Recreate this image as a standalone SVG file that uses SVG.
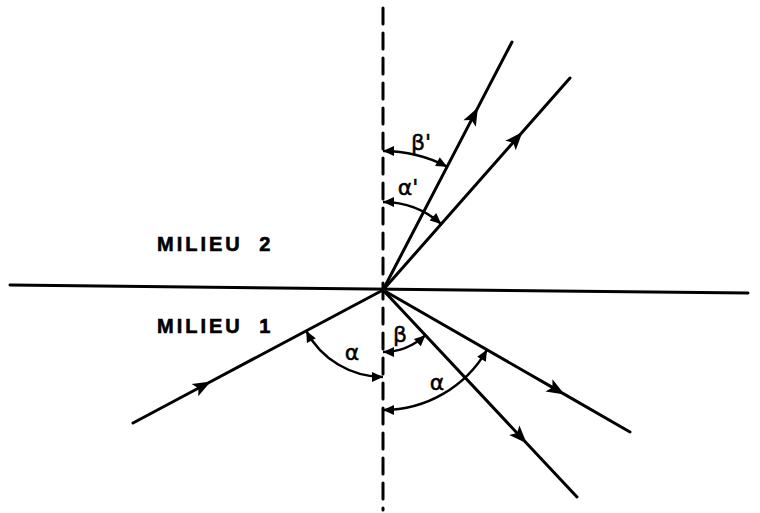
<svg xmlns="http://www.w3.org/2000/svg" width="760" height="513" viewBox="0 0 760 513">
<style>
.ln{stroke:#000;stroke-width:3;fill:none;stroke-linecap:round}
.ray{stroke:#000;stroke-width:3;fill:none;stroke-linecap:round;marker-mid:url(#ah)}
.arc{stroke:#000;stroke-width:2.4;fill:none;marker-start:url(#sa);marker-end:url(#sa)}
.med{font-family:"Liberation Sans",Arial,sans-serif;font-weight:bold;font-size:20px;letter-spacing:3px;word-spacing:8px;fill:#000;stroke:#000;stroke-width:0.6}
.gr{font-family:"DejaVu Sans",sans-serif;font-size:22px;fill:#000;text-anchor:middle;dominant-baseline:central;stroke:#000;stroke-width:0.5}
</style>
<defs>
<marker id="ah" markerUnits="userSpaceOnUse" markerWidth="24" markerHeight="24" viewBox="-12 -12 24 24" refX="0" refY="0" orient="auto" overflow="visible">
<path d="M10,0 L-8,-7 L-4,0 L-8,7 Z" fill="#000"/>
</marker>
<marker id="sa" markerUnits="userSpaceOnUse" markerWidth="14" markerHeight="14" viewBox="-12 -7 14 14" refX="0" refY="0" orient="auto-start-reverse" overflow="visible">
<path d="M0,0 L-11,-5 L-11,5 Z" fill="#000"/>
</marker>
</defs>
<rect width="760" height="513" fill="#fff"/>
<g id="axes">
<line class="ln" x1="10" y1="285" x2="748" y2="293"/>
<line class="ln" x1="383" y1="8" x2="383" y2="510" stroke-width="3.2" stroke-dasharray="16 9" stroke-linecap="butt"/>
</g>
<g id="rays">
<path id="incident" class="ray" d="M133,423 L202,386.3 L383,290"/>
<path id="refr1" class="ray" d="M383,290 L473.3,116.4 L512,42"/>
<path id="refr2" class="ray" d="M383,290 L515.8,139.5 L570,78"/>
<path id="reflA" class="ray" d="M383,290 L555.9,389.4 L630,432"/>
<path id="reflB" class="ray" d="M383,290 L519.8,436 L577,497"/>
</g>
<g id="angles">
<path id="arc-beta-p" class="arc" d="M383,151 A139,139 0 0 1 447.2,166.7"/>
<path id="arc-alpha-p" class="arc" d="M383,202 A88,88 0 0 1 441.2,224"/>
<path id="arc-alpha-in" class="arc" d="M306.2,330.9 A87,87 0 0 0 383,377"/>
<path id="arc-beta" class="arc" d="M383,352 A62,62 0 0 0 425.4,335.2"/>
<path id="arc-alpha" class="arc" d="M383,410 A120,120 0 0 0 487,349.8"/>
</g>
<g id="labels">
<text class="med" x="157" y="251">MILIEU 2</text>
<text class="med" x="157" y="333">MILIEU 1</text>
<text class="gr" x="421" y="142">β'</text>
<text class="gr" x="408" y="187">α'</text>
<text class="gr" x="352" y="352">α</text>
<text class="gr" x="400" y="334">β</text>
<text class="gr" x="437" y="382">α</text>
</g>
</svg>
